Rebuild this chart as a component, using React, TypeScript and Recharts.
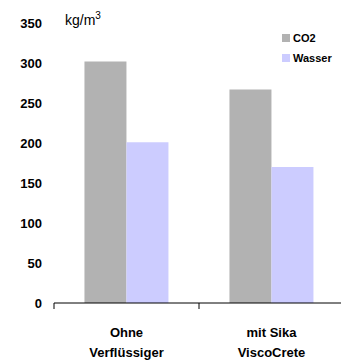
import { BarChart, Bar, XAxis, YAxis } from "recharts";

const categories = ["Ohne Verflüssiger", "mit Sika ViscoCrete"];
const co2 = [302, 267];
const wasser = [201, 170];
const yTicks = [0, 50, 100, 150, 200, 250, 300, 350];

const data = categories.map((c, i) => ({ name: c, co2: co2[i], wasser: wasser[i] }));

const FONT = "'Liberation Sans', Arial, sans-serif";

function CatTick(props: any) {
  const { x, y, payload, index } = props;
  const half = payload?.offset ?? 72.5;
  const axisY = y - 8;
  const words = String(payload.value).split(" ");
  const lines = words.length > 2 ? [words.slice(0, 2).join(" "), words.slice(2).join(" ")] : [words[0], words.slice(1).join(" ")];
  return (
    <g>
      <line x1={x - half} y1={axisY} x2={x - half} y2={axisY + 6} stroke="#000" />
      {index === categories.length - 1 && (
        <line x1={x + half} y1={axisY} x2={x + half} y2={axisY + 6} stroke="#000" />
      )}
      <text x={x} y={axisY + 34} textAnchor="middle" fontFamily={FONT} fontWeight="bold" fontSize={13} fill="#000">
        {lines[0]}
      </text>
      <text x={x} y={axisY + 54} textAnchor="middle" fontFamily={FONT} fontWeight="bold" fontSize={13} fill="#000">
        {lines[1]}
      </text>
    </g>
  );
}

const legendItems = [
  { label: "CO2", color: "#b2b2b2" },
  { label: "Wasser", color: "#ccccff" },
];

export default function App() {
  return (
    <div style={{ position: "absolute", left: 0, top: 0, width: 341, height: 362, overflow: "hidden", background: "#fff" }}>
      <BarChart width={346} height={362} data={data} barGap={0} barCategoryGap="21%" margin={{ top: 23, right: 2, bottom: 0, left: 0 }}>
        <YAxis
          domain={[0, 350]}
          ticks={yTicks}
          interval={0}
          width={54}
          axisLine={false}
          tickLine={false}
          tickSize={0}
          tickMargin={12}
          tick={{ fontFamily: FONT, fontWeight: "bold", fontSize: 13, fill: "#000" }}
        />
        <XAxis
          dataKey="name"
          height={59}
          axisLine={{ stroke: "#000" }}
          tickLine={false}
          interval={0}
          tick={<CatTick />}
        />
        <Bar dataKey="co2" name="CO2" fill="#b2b2b2" isAnimationActive={false} />
        <Bar dataKey="wasser" name="Wasser" fill="#ccccff" isAnimationActive={false} />
      </BarChart>
      <div style={{ position: "absolute", left: 282, top: 28, fontFamily: FONT, fontWeight: "bold", fontSize: 11 }}>
        {legendItems.map((it) => (
          <div key={it.label} style={{ display: "flex", alignItems: "center", height: 20 }}>
            <span style={{ width: 8, height: 8, background: it.color, marginRight: 3 }} />
            <span>{it.label}</span>
          </div>
        ))}
      </div>
      <div style={{ position: "absolute", left: 65, top: 10, fontFamily: FONT, fontSize: 14, color: "#000" }}>
        kg/m<sup style={{ fontSize: 10 }}>3</sup>
      </div>
    </div>
  );
}
